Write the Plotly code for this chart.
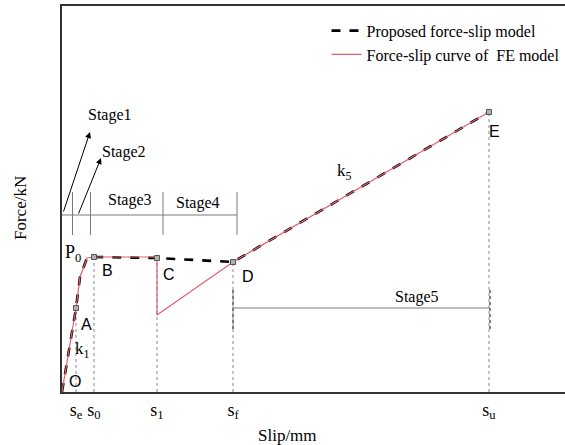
import plotly.graph_objects as go

# ---- data (arbitrary slip / force units) ----
model_slip = [0, 14, 18, 25, 32, 95, 171, 427]
model_force = [0, 84, 115, 134, 135, 134, 130, 280]

fe_slip = [0, 14, 18, 25, 32, 95, 95, 171, 427]
fe_force = [0, 84, 115, 134, 135, 135, 77, 130, 280]

key_names = ["A", "B", "C", "D", "E"]
key_slip = [14, 32, 95, 171, 427]
key_force = [84, 135, 134, 130, 280]
key_label_dx = [10, 13, 12, 15, 5]
key_label_dy = [-16, -13, -16, -14, -19]

tick_vals = [14, 32, 95, 171, 427]
tick_text = ["s<sub>e</sub>", "s<sub>0</sub>", "s<sub>1</sub>", "s<sub>f</sub>", "s<sub>u</sub>"]

stage_ticks = [10.5, 28.5, 101, 175]
stage_line_y = 177
stage5_x = [171, 428]
stage5_y = 84

SERIF = "Liberation Serif"
SANS = "Liberation Sans"
GRAY = "#7a7a7a"

fig = go.Figure()

# dotted guide lines from key points to the slip axis
for xv, yv in zip(key_slip, key_force):
    fig.add_trace(go.Scatter(x=[xv, xv], y=[0, yv], mode="lines",
                             line=dict(color="#8a8a8a", width=1, dash="dot"),
                             showlegend=False, hoverinfo="skip"))

fig.add_trace(go.Scatter(x=model_slip, y=model_force, mode="lines",
                         name="Proposed force-slip model",
                         line=dict(color="black", width=2.6, dash="dash")))
fig.add_trace(go.Scatter(x=fe_slip, y=fe_force, mode="lines",
                         name="Force-slip curve of  FE model",
                         line=dict(color="#e06070", width=1.2)))
fig.add_trace(go.Scatter(x=key_slip, y=key_force, mode="markers",
                         marker=dict(symbol="square", size=5, color="#b0b0b0",
                                     line=dict(color="#555555", width=1)),
                         showlegend=False, hoverinfo="skip"))

shapes = []
# stage 1-4 bracket
shapes.append(dict(type="line", xref="x", yref="y", x0=0, x1=stage_ticks[-1],
                   y0=stage_line_y, y1=stage_line_y, line=dict(color=GRAY, width=1)))
for xv in stage_ticks:
    shapes.append(dict(type="line", xref="x", yref="y", x0=xv, x1=xv,
                       y0=stage_line_y - 20, y1=stage_line_y + 23,
                       line=dict(color=GRAY, width=1)))
# stage 5 bracket
shapes.append(dict(type="line", xref="x", yref="y", x0=stage5_x[0], x1=stage5_x[1],
                   y0=stage5_y, y1=stage5_y, line=dict(color=GRAY, width=1)))
for xv in stage5_x:
    shapes.append(dict(type="line", xref="x", yref="y", x0=xv, x1=xv,
                       y0=stage5_y - 21, y1=stage5_y + 21,
                       line=dict(color="#555555", width=1.5, dash="dot")))

ann = []
for n, xv, yv, dx, dy in zip(key_names, key_slip, key_force, key_label_dx, key_label_dy):
    ann.append(dict(x=xv + dx, y=yv + dy, text=n, showarrow=False, xref="x", yref="y",
                    font=dict(family=SANS, size=16, color="black")))
ann.append(dict(x=13, y=11, text="O", showarrow=False, xref="x", yref="y",
                font=dict(family=SANS, size=16, color="black")))
ann.append(dict(x=11, y=139, text="P<sub>0</sub>", showarrow=False, xref="x", yref="y",
                font=dict(family=SERIF, size=18, color="black")))
ann.append(dict(x=20, y=42, text="k<sub>1</sub>", showarrow=False, xref="x", yref="y",
                font=dict(family=SERIF, size=17, color="black")))
ann.append(dict(x=282, y=220, text="k<sub>5</sub>", showarrow=False, xref="x", yref="y",
                font=dict(family=SERIF, size=17, color="black")))

stage_text = [("Stage1", 48, 277), ("Stage2", 62, 240), ("Stage3", 68, 192),
              ("Stage4", 136, 189), ("Stage5", 355, 95)]
for t, xv, yv in stage_text:
    ann.append(dict(x=xv, y=yv, text=t, showarrow=False, xref="x", yref="y",
                    font=dict(family=SERIF, size=16, color="black")))

# arrows toward stage 1 and 2
ann.append(dict(x=28, y=260, ax=1, ay=179, xref="x", yref="y", axref="x", ayref="y",
                showarrow=True, arrowhead=2, arrowsize=1.2, arrowwidth=1, arrowcolor="black", text=""))
ann.append(dict(x=39, y=234, ax=16, ay=177, xref="x", yref="y", axref="x", ayref="y",
                showarrow=True, arrowhead=2, arrowsize=1.2, arrowwidth=1, arrowcolor="black", text=""))

# axis titles (paper coordinates so they are drawn outside the plot area)
ann.append(dict(x=225 / 503, y=-43 / 386, text="Slip/mm", showarrow=False,
                xref="paper", yref="paper", xanchor="center", yanchor="middle",
                font=dict(family=SERIF, size=17, color="black")))
ann.append(dict(x=-42 / 503, y=184 / 386, text="Force/kN", showarrow=False,
                xref="paper", yref="paper", textangle=-90,
                xanchor="center", yanchor="middle",
                font=dict(family=SERIF, size=17, color="black")))

fig.update_layout(
    width=565, height=445,
    margin=dict(l=62, r=0, t=6, b=53),
    plot_bgcolor="white", paper_bgcolor="white",
    shapes=shapes, annotations=ann,
    legend=dict(x=0.999, y=0.98, xanchor="right", yanchor="top",
                bgcolor="rgba(0,0,0,0)", font=dict(family=SERIF, size=16, color="black"),
                tracegroupgap=0),
    xaxis=dict(range=[0, 503], showgrid=False, zeroline=False, showline=True,
               linecolor="#333333", linewidth=2, mirror=True,
               tickmode="array", tickvals=tick_vals, ticktext=tick_text, ticks="",
               tickfont=dict(family=SERIF, size=18, color="black")),
    yaxis=dict(range=[0, 386], showgrid=False, zeroline=False, showline=True,
               linecolor="#333333", linewidth=2, showticklabels=False, ticks=""),
)

fig.write_html("out.html")
